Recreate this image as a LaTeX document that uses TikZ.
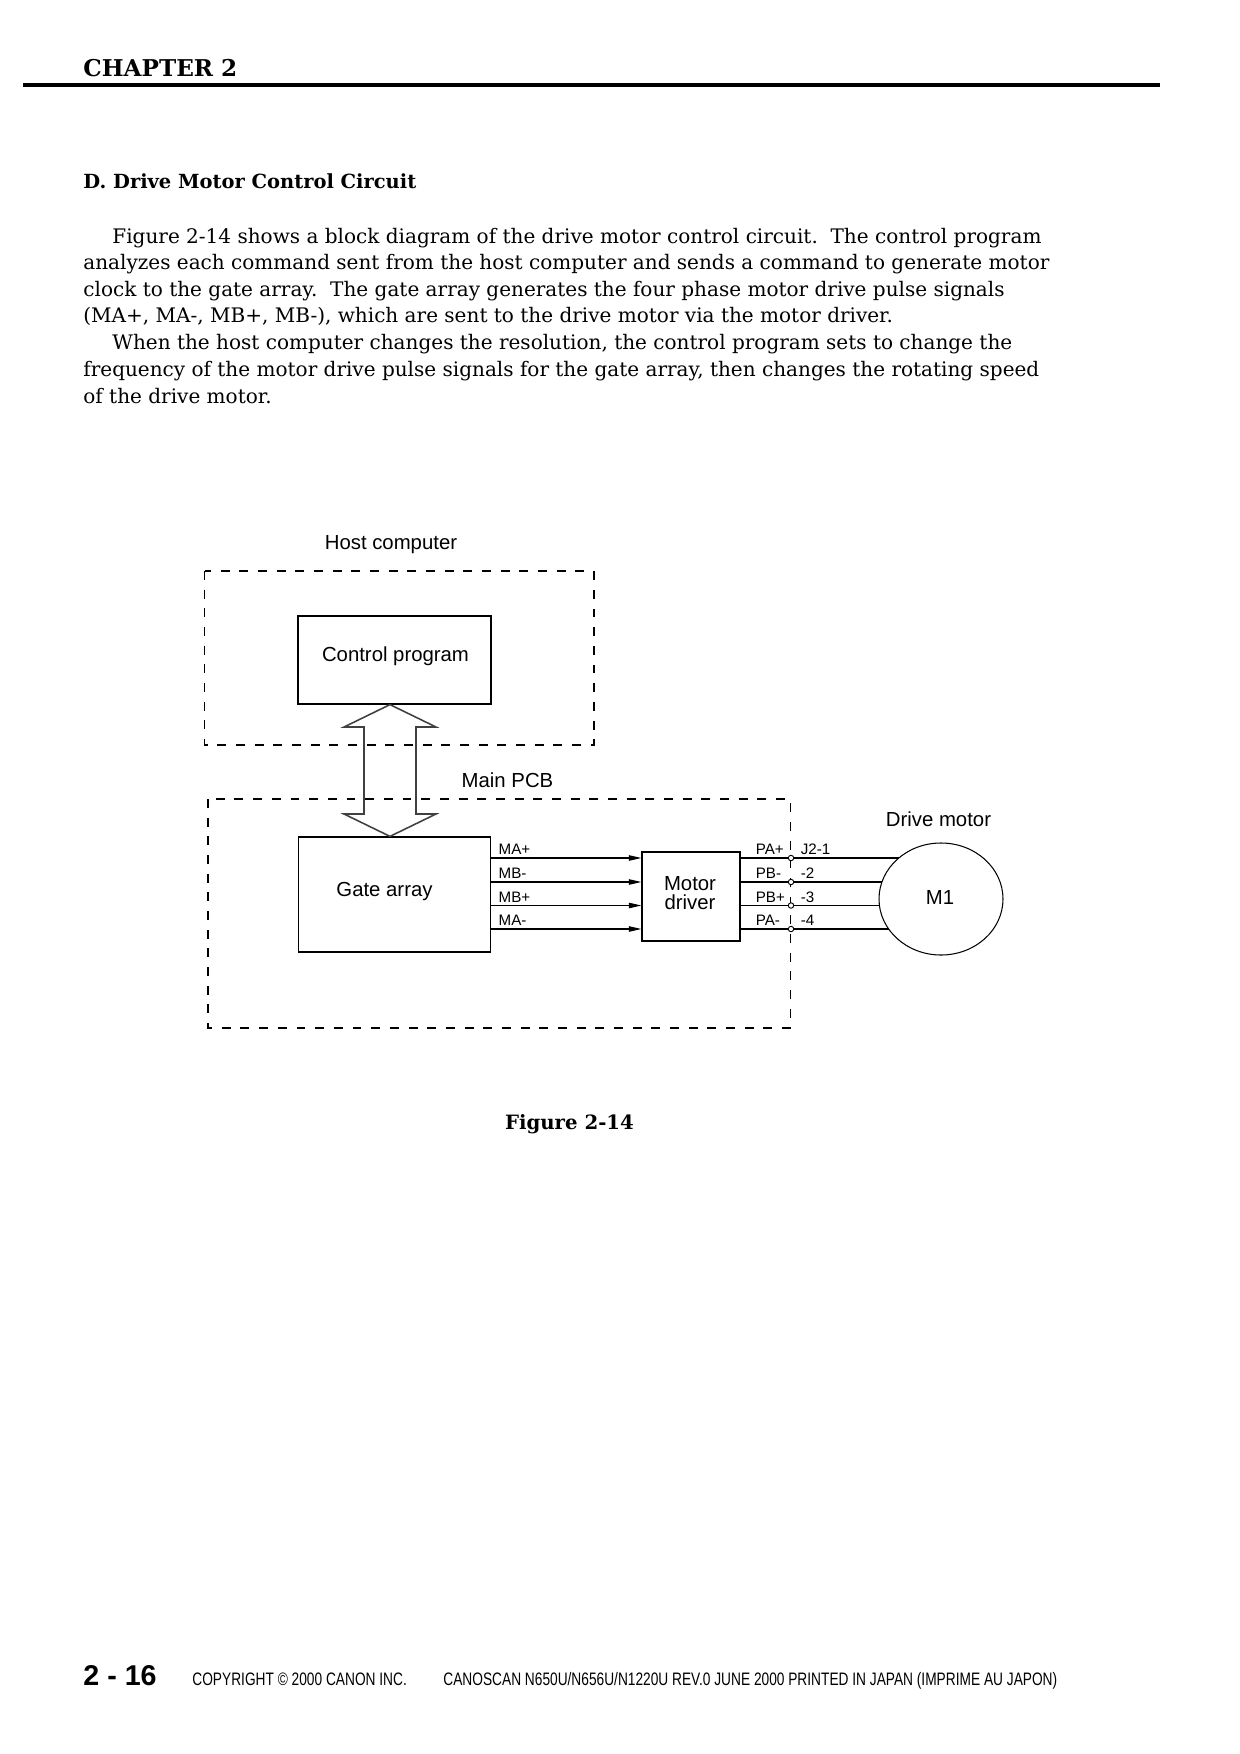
\documentclass[tikz,border=0pt]{standalone}
\usepackage{fontspec}
\setmainfont{DejaVu Serif}
\newfontfamily\diagfont{Liberation Sans}
\newfontfamily\footfont[FakeStretch=0.76]{Liberation Sans}
\usetikzlibrary{arrows.meta,shapes.geometric}
\tikzset{
  body/.style={anchor=base west, inner sep=0, font=\fontsize{9.65}{11}\selectfont},
  box/.style={draw, line width=0.6pt, inner sep=0},
  dbox/.style={draw, line width=0.5pt, dash pattern=on 4.3pt off 4.7pt},
  dtext/.style={font=\diagfont\fontsize{9.8}{11}\selectfont, inner sep=0},
  stext/.style={font=\diagfont\fontsize{7.3}{8}\selectfont, inner sep=0, anchor=base west},
  sig/.style={line width=0.5pt, -{Triangle[length=6pt,width=2.6pt]}},
  wire/.style={line width=0.5pt},
  pin/.style={circle, draw, line width=0.45pt, fill=white, inner sep=0, minimum size=0.92mm},
  dblarrow/.style={draw=black!75, line width=0.75pt, line join=miter},
}
\begin{document}
\begin{tikzpicture}[x=0.169355mm, y=-0.169355mm]
\fill[white] (0,0) rectangle (1240,1754);
\useasboundingbox (0,0) rectangle (1240,1754);

% header
\node[anchor=base west, inner sep=0, font=\bfseries\fontsize{11.15}{13}\selectfont] (chap) at (83,76) {CHAPTER 2};
\draw[line width=1.9pt] (23,85) -- (1160,85);

% section heading and paragraph
\node[body, font=\bfseries\fontsize{9.38}{11}\selectfont] (head) at (83,188) {D. Drive Motor Control Circuit};
\node[body] (p1) at (112,243) {Figure 2-14 shows a block diagram of the drive motor control circuit.\ \ The control program};
\node[body] (p2) at (83,269.5) {analyzes each command sent from the host computer and sends a command to generate motor};
\node[body] (p3) at (83,296) {clock to the gate array.\ \ The gate array generates the four phase motor drive pulse signals};
\node[body] (p4) at (83,322.5) {(MA+, MA-, MB+, MB-), which are sent to the drive motor via the motor driver.};
\node[body] (p5) at (112,349.5) {When the host computer changes the resolution, the control program sets to change the};
\node[body] (p6) at (83,376) {frequency of the motor drive pulse signals for the gate array, then changes the rotating speed};
\node[body] (p7) at (83,403) {of the drive motor.};

% dashed enclosures
\draw[dbox] (204.5,571) rectangle (594,745);
\draw[dbox] (208,799) rectangle (790.5,1028);
\node[dtext] (hostlbl) at (391,544.5) {Host computer};
\node[dtext] (pcblbl) at (507.5,780) {Main PCB};

% blocks
\node[box, minimum width=32.69mm, minimum height=14.9mm] (cp) at (394.5,660) {};
\node[dtext] (cptext) at (395.5,656) {Control program};
\node[box, minimum width=32.52mm, minimum height=19.48mm] (ga) at (394.5,894.5) {};
\node[dtext] (gatext) at (384.5,891) {Gate array};
\node[box, minimum width=16.6mm, minimum height=15.07mm] (md) at (691,896.5) {};
\node[dtext, align=center, font=\diagfont\fontsize{9.8}{8.8}\selectfont] (mdtext) at (690,893) {Motor\\driver};

% double arrow between control program and gate array
\draw[dblarrow] (cp.south -| 390,0) -- (436,727) -- (416,727) -- (416,814) -- (436,814)
  -- (ga.north -| 390,0) -- (344,814) -- (364,814) -- (364,727) -- (344,727) -- cycle;

% signal rows
\coordinate (r1) at (0,858);
\coordinate (r2) at (0,882);
\coordinate (r3) at (0,905.5);
\coordinate (r4) at (0,929);
\foreach \i/\lbl in {1/MA+,2/MB-,3/MB+,4/MA-}{
  \draw[sig] (ga.east |- r\i) -- (md.west |- r\i);
  \node[stext] at ([xshift=1.2mm, yshift=0.55mm]ga.east |- r\i) {\lbl};
}

% motor
\node[draw, ellipse, line width=0.5pt, minimum width=21.0mm, minimum height=18.97mm, inner sep=0] (m1) at (941,899) {};
\node[dtext] (m1text) at (940,897) {M1};
\node[dtext] (dmlbl) at (938.5,819.5) {Drive motor};
% wire end points on the motor outline
\coordinate (e1) at (898.8,858);
\coordinate (e2) at (882.3,882);
\coordinate (e3) at (879.4,905.5);
\coordinate (e4) at (888.6,929);

% connector pins and wires
\foreach \i/\plbl/\jlbl in {1/PA+/J2-1,2/PB-/-2,3/PB+/-3,4/PA-/-4}{
  \node[pin] (j\i) at (791,0 |- r\i) {};
  \draw[wire] (md.east |- r\i) -- (j\i);
  \draw[wire] (j\i) -- (e\i);
  \node[stext] at ([xshift=2.5mm, yshift=0.55mm]md.east |- r\i) {\plbl};
  \node[stext] at ([xshift=1.6mm, yshift=0.55mm]j\i.center) {\jlbl};
}

% caption
\node[anchor=base, inner sep=0, font=\bfseries\fontsize{9.5}{11}\selectfont] (cap) at (569.5,1129) {Figure 2-14};

% footer
\node[anchor=base west, inner sep=0, font=\diagfont\bfseries\fontsize{13.8}{15}\selectfont] (pg) at (83,1685) {2 - 16};
\node[anchor=base west, inner sep=0, font=\footfont\fontsize{8.7}{10}\selectfont] (copy) at (192,1685) {COPYRIGHT © 2000 CANON INC.};
\node[anchor=base west, inner sep=0, font=\footfont\fontsize{8.7}{10}\selectfont] (prod) at (443,1685) {CANOSCAN N650U/N656U/N1220U REV.0 JUNE 2000 PRINTED IN JAPAN (IMPRIME AU JAPON)};
\end{tikzpicture}
\end{document}
